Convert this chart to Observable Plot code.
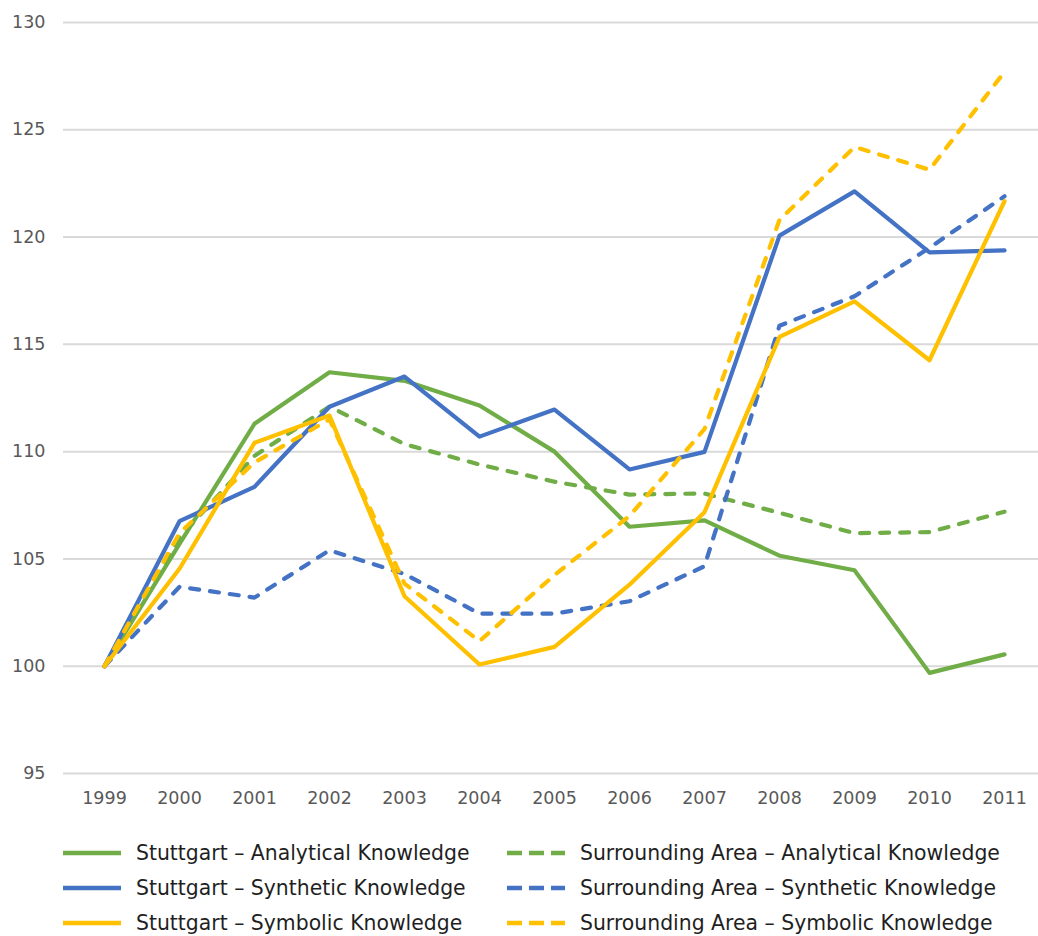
<!DOCTYPE html>
<html>
<head>
<meta charset="utf-8">
<script src="https://cdn.jsdelivr.net/npm/d3@7"></script>
<script src="https://cdn.jsdelivr.net/npm/@observablehq/plot@0.6"></script>
<style>
  body { margin: 0; background: #fff; font-family: "DejaVu Sans", sans-serif; }
  #legend { display: grid; grid-template-columns: 444px auto; padding-left: 63px; margin-top: 15px; row-gap: 0; }
  .item { display: flex; align-items: center; height: 35px; font-size: 20.4px; color: #1f1f1f; white-space: nowrap; }
  .item svg { margin-right: 15px; flex: none; }
</style>
</head>
<body>
<div id="chart"></div>
<div id="legend"></div>
<script>
const years = ["1999","2000","2001","2002","2003","2004","2005","2006","2007","2008","2009","2010","2011"];
const yTicks = [95, 100, 105, 110, 115, 120, 125, 130];

const stuttgartAnalytical   = [100, 105.7, 111.3, 113.7, 113.3, 112.15, 110.0, 106.5, 106.8, 105.15, 104.47, 99.69, 100.55];
const surroundingAnalytical = [100, 106.0, 109.8, 112.1, 110.35, 109.4, 108.6, 108.0, 108.05, 107.15, 106.2, 106.25, 107.2];
const stuttgartSynthetic    = [100, 106.76, 108.36, 112.09, 113.5, 110.7, 111.96, 109.17, 109.99, 120.07, 122.13, 119.29, 119.38];
const surroundingSynthetic  = [100, 103.7, 103.2, 105.4, 104.3, 102.45, 102.45, 103.03, 104.66, 115.87, 117.24, 119.5, 121.9];
const stuttgartSymbolic     = [100, 104.54, 110.41, 111.68, 103.26, 100.08, 100.9, 103.8, 107.18, 115.35, 117.0, 114.26, 121.67];
const surroundingSymbolic   = [100, 106.2, 109.5, 111.5, 103.85, 101.17, 104.25, 107.0, 111.05, 120.8, 124.2, 123.14, 127.7];

const seriesNames = [
  "Stuttgart – Analytical Knowledge",
  "Surrounding Area – Analytical Knowledge",
  "Stuttgart – Synthetic Knowledge",
  "Surrounding Area – Synthetic Knowledge",
  "Stuttgart – Symbolic Knowledge",
  "Surrounding Area – Symbolic Knowledge"
];
const seriesValues = [stuttgartAnalytical, surroundingAnalytical, stuttgartSynthetic, surroundingSynthetic, stuttgartSymbolic, surroundingSymbolic];
const seriesColors = ["#70AD47", "#70AD47", "#4472C4", "#4472C4", "#FFC000", "#FFC000"];
const seriesDashed = [false, true, false, true, false, true];

const lineMarks = seriesNames.map((name, k) => {
  const data = years.map((yr, i) => ({year: yr, value: seriesValues[k][i], series: name}));
  return Plot.line(data, {
    x: "year", y: "value",
    stroke: seriesColors[k], strokeWidth: 4.2,
    strokeDasharray: seriesDashed[k] ? "9,11" : null,
    strokeLinecap: "round", strokeLinejoin: "round"
  });
});

const chart = Plot.plot({
  width: 1038,
  height: 820,
  marginTop: 22,
  marginBottom: 47,
  marginLeft: 63,
  marginRight: 0,
  style: { fontFamily: "DejaVu Sans", fontSize: "17.5px", color: "#595959", background: "#fff" },
  x: { type: "point", domain: years, range: [100, 1008], padding: 0 },
  y: { domain: [95, 130] },
  marks: [
    Plot.ruleY(yTicks, { stroke: "#d9d9d9", strokeWidth: 2 }),
    ...lineMarks,
    Plot.axisY({ ticks: yTicks, tickSize: 0, tickPadding: 18, label: null }),
    Plot.axisX({ tickSize: 0, tickPadding: 18, label: null })
  ]
});
document.getElementById("chart").appendChild(chart);

// Legend
const legend = document.getElementById("legend");
seriesNames.forEach((name, k) => {
  const item = document.createElement("div");
  item.className = "item";
  const dash = seriesDashed[k] ? 'stroke-dasharray="15,7"' : '';
  item.innerHTML = `<svg width="58" height="12"><line x1="0" y1="6" x2="58" y2="6" stroke="${seriesColors[k]}" stroke-width="4.5" ${dash}/></svg><span>${name}</span>`;
  legend.appendChild(item);
});
</script>
</body>
</html>
